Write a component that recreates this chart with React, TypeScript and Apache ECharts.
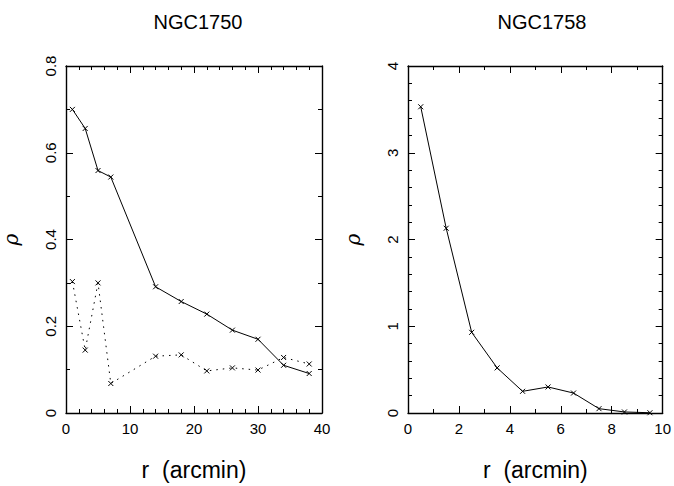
import React, { useEffect, useRef } from "react";
import * as echarts from "echarts";

const r1750 = [1, 3, 5, 7, 14, 18, 22, 26, 30, 34, 38];
const rho1750Solid = [0.70, 0.656, 0.559, 0.544, 0.291, 0.257, 0.228, 0.191, 0.170, 0.110, 0.091];
const rho1750Dotted = [0.303, 0.145, 0.300, 0.068, 0.131, 0.134, 0.097, 0.104, 0.099, 0.128, 0.113];
const r1758 = [0.5, 1.5, 2.5, 3.5, 4.5, 5.5, 6.5, 7.5, 8.5, 9.5];
const rho1758 = [3.53, 2.13, 0.93, 0.52, 0.25, 0.30, 0.23, 0.05, 0.012, 0.003];
const titles = ["NGC1750", "NGC1758"];
const xName = "r  (arcmin)";
const yName = "ρ";

const FONT = "Liberation Sans";
const CROSS = "path://M0,0L10,10M10,0L0,10";

function pairs(xs: number[], ys: number[]) {
  return xs.map((x, i) => [x, ys[i]]);
}

export default function App() {
  const ref = useRef<HTMLDivElement>(null);
  useEffect(() => {
    document.body.style.margin = "0";
    const chart = echarts.init(ref.current!, null, { renderer: "svg" });
    const axisLine = { show: true, onZero: false, lineStyle: { color: "#000", width: 1.4 } };
    const tick = { show: true, inside: true, length: 7, lineStyle: { color: "#000", width: 1 } };
    const minor = (n: number) => ({ show: true, splitNumber: n, length: 4, lineStyle: { color: "#000", width: 1 } });
    const label = { color: "#000", fontFamily: FONT, fontSize: 15 };

    const mkX = (grid: number, min: number, max: number, interval: number, minorN: number) => [
      {
        type: "value", gridIndex: grid, min, max, interval, position: "bottom",
        axisLine, axisTick: tick, minorTick: minor(minorN), splitLine: { show: false },
        axisLabel: { ...label, margin: 8 },
        name: xName, nameLocation: "middle", nameGap: 45,
        nameTextStyle: { color: "#000", fontFamily: FONT, fontSize: 23 },
      },
      {
        type: "value", gridIndex: grid, min, max, interval, position: "top",
        axisLine, axisTick: tick, minorTick: minor(minorN), splitLine: { show: false },
        axisLabel: { show: false },
      },
    ];
    const mkY = (grid: number, min: number, max: number, interval: number, minorN: number) => [
      {
        type: "value", gridIndex: grid, min, max, interval, position: "left",
        axisLine, axisTick: tick, minorTick: minor(minorN), splitLine: { show: false },
        axisLabel: { ...label, rotate: 90, margin: 8 },
        name: yName, nameLocation: "middle", nameGap: 45, nameRotate: 90,
        nameTextStyle: { color: "#000", fontFamily: "DejaVu Serif", fontStyle: "italic", fontSize: 20 },
      },
      {
        type: "value", gridIndex: grid, min, max, interval, position: "right",
        axisLine, axisTick: tick, minorTick: minor(minorN), splitLine: { show: false },
        axisLabel: { show: false },
      },
    ];

    const lineSeries = (xi: number, yi: number, data: number[][], dotted: boolean) => ({
      type: "line", xAxisIndex: xi, yAxisIndex: yi, data,
      symbol: CROSS, symbolSize: 5,
      itemStyle: { color: "#000", borderColor: "#000", borderWidth: 1 },
      lineStyle: { color: "#000", width: 1, type: dotted ? [1.5, 5] : "solid" },
      z: 3,
    });

    chart.setOption({
      animation: false,
      backgroundColor: "#fff",
      title: [
        { text: titles[0], left: 193, top: 7, textAlign: "center", textStyle: { color: "#000", fontFamily: FONT, fontWeight: "normal", fontSize: 20 } },
        { text: titles[1], left: 537, top: 7, textAlign: "center", textStyle: { color: "#000", fontFamily: FONT, fontWeight: "normal", fontSize: 20 } },
      ],
      grid: [
        { left: 64, top: 66, width: 258, height: 347 },
        { left: 408, top: 66, width: 258, height: 347 },
      ],
      xAxis: [...mkX(0, 0, 40, 10, 5), ...mkX(1, 0, 10, 2, 2)],
      yAxis: [...mkY(0, 0, 0.8, 0.2, 2), ...mkY(1, 0, 4, 1, 5)],
      series: [
        lineSeries(0, 0, pairs(r1750, rho1750Solid), false),
        lineSeries(0, 0, pairs(r1750, rho1750Dotted), true),
        lineSeries(2, 2, pairs(r1758, rho1758), false),
      ],
    });
    return () => chart.dispose();
  }, []);
  return <div ref={ref} style={{ width: 674, height: 486 }} />;
}
